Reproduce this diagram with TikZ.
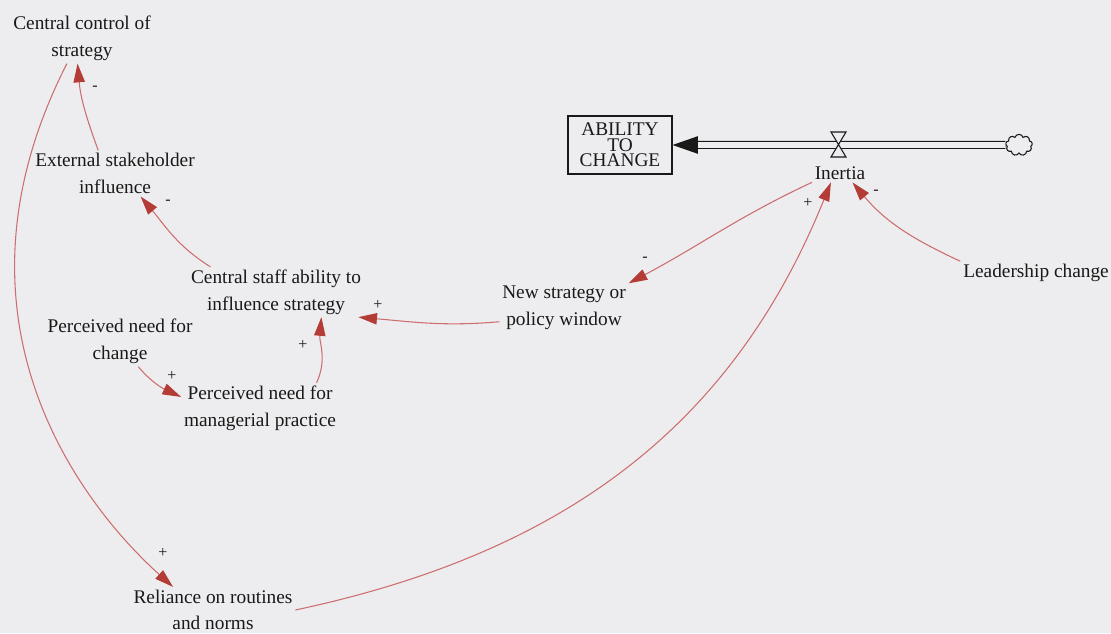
\documentclass[tikz,border=0pt]{standalone}
\usepackage{fontspec}
\setmainfont{Liberation Serif}
\usetikzlibrary{arrows.meta, shapes.symbols}
\definecolor{paper}{RGB}{237,237,239}
\definecolor{linkred}{RGB}{205,110,110}
\definecolor{tipred}{RGB}{180,60,55}
\definecolor{ink}{RGB}{25,25,25}

\begin{document}
\begin{tikzpicture}[
  x=0.75pt, y=0.75pt,
  var/.style={align=center, inner sep=2pt, text=ink, font=\fontsize{14.5}{20}\selectfont},
  stock/.style={draw=ink, line width=0.8pt, align=center, minimum width=78pt,
    minimum height=43.5pt, inner sep=1pt, text=ink, font=\fontsize{14.5}{11.5}\selectfont},
  link/.style={linkred, line width=0.8pt, -{Triangle[length=14pt, width=8.5pt, color=tipred]}},
  sign/.style={text=ink, inner sep=0pt, font=\fontsize{12}{12}\selectfont},
  pipe/.style={draw=ink, double=paper, double distance=4.2pt, line width=0.9pt},
]
  \fill[paper] (0,0) rectangle (1111,633);
  \useasboundingbox (0,0) rectangle (1111,633);

  % stock and flow
  \node[stock] (ability) at (620,488) {ABILITY\\TO\\CHANGE};
  \node[cloud, draw=ink, fill=paper, line width=0.8pt, cloud puffs=9, aspect=1.2,
    minimum width=20pt, minimum height=16pt, inner sep=0pt] (cloud) at (1019,488) {};
  \draw[pipe, -{Triangle[length=19pt, width=13pt, fill=ink]}] (cloud.west) -- (ability.east);
  \coordinate (valve) at (838.5,488.5);
  \filldraw[draw=ink, fill=paper, line width=0.8pt]
    (valve) ++(-7.5,12.5) -- ++(15,0) -- ++(-15,-25) -- ++(15,0) -- cycle;
  \node[var] (inertia) at (840,460) {Inertia};

  % variables
  \node[var] (ctrl)       at (82,594.5) {Central control of\\strategy};
  \node[var] (ext)        at (115,459.5) {External stakeholder\\influence};
  \node[var] (staff)      at (276,341) {Central staff ability to\\influence strategy};
  \node[var] (needchange) at (120,291.5) {Perceived need for\\change};
  \node[var] (needmgr)    at (260,225) {Perceived need for\\managerial practice};
  \node[var] (newstrat)   at (564,325) {New strategy or\\policy window};
  \node[var] (leader)     at (1036,360) {Leadership change};
  \node[var] (reliance)   at (213,23) {Reliance on routines\\and norms};

  % causal links
  \draw[link] (ext.126) to[out=110, in=-85] (ctrl.260);
  \draw[link] (staff.159) to[out=148, in=-50] (ext.-42);
  \draw[link] (ctrl.239) to[out=243, in=138, out looseness=1.4, in looseness=0.55] (reliance.150);
  \draw[link] (newstrat.192) to[out=185, in=-5] (staff.-17);
  \draw[link] (needmgr.24) to[out=65, in=-95] (staff.-29);
  \draw[link] (needchange.-54) to[out=-50, in=155] (needmgr.172);
  \draw[link] (inertia.south west) to[out=205, in=28] (newstrat.north east);
  \draw[link] (reliance.east) to[out=12, in=-112] (inertia.226);
  \draw[link] (leader.north west) to[out=155, in=-50] (inertia.-37);

  % polarities
  \node[sign] (s-ext)      at (95,545)  {-};
  \node[sign] (s-staff)    at (168,431) {-};
  \node[sign] (s-ctrl)     at (163,80)  {+};
  \node[sign] (s-newstrat) at (378,328) {+};
  \node[sign] (s-needmgr)  at (303,288) {+};
  \node[sign] (s-change)   at (172,257) {+};
  \node[sign] (s-inertia)  at (645,374) {-};
  \node[sign] (s-reliance) at (808,430) {+};
  \node[sign] (s-leader)   at (876,441) {-};
\end{tikzpicture}
\end{document}
